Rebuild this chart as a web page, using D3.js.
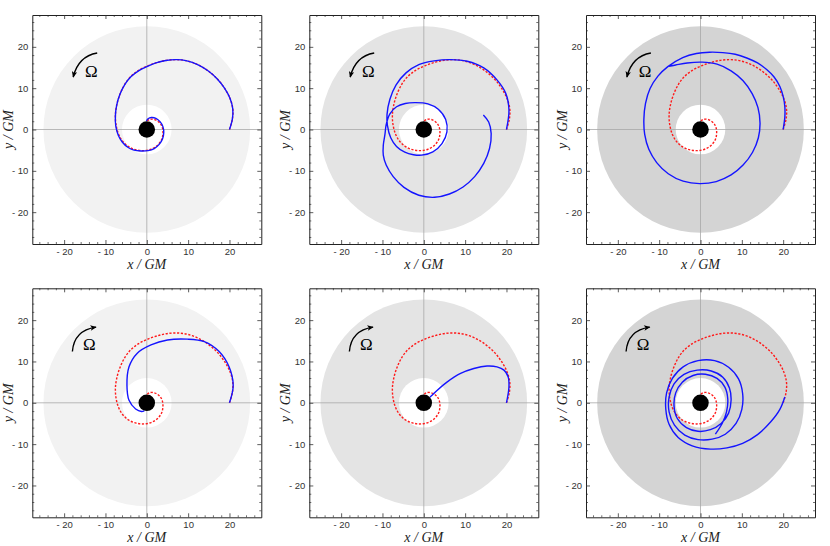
<!DOCTYPE html>
<html>
<head>
<meta charset="utf-8">
<script src="https://cdn.jsdelivr.net/npm/d3@7/dist/d3.min.js"></script>
<style>
body { margin: 0; background: #fff; }
</style>
</head>
<body>
<svg id="chart" width="830" height="546"></svg>
<script>
// values, in units of GM
var majorTicks = [-20, -10, 0, 10, 20];
var majorLabels = ['- 20', '- 10', '0', '10', '20'];
var minorTicks = [-26,-24,-22,-18,-16,-14,-12,-8,-6,-4,-2,2,4,6,8,12,14,16,18,22,24,26];

var diskShade = ['#f2f2f2', '#e4e4e4', '#d4d4d4'];
var diskRadius = 25;
var holeRadius = 6;
var horizonRadius = 2;

// rotation sense arrow (start, control, end) and Omega label
var arrowTop = [[-12, 18.5], [-16.6, 17.7], [-17.8, 12.7]];
var arrowBottom = [[-18, 12.4], [-17.6, 17.5], [-12.3, 18.3]];
var omegaTop = [-13.4, 14.1];
var omegaBottom = [-13.9, 14];

// red dashed reference orbit (same in every panel)
var redOrbit = [[20,0],[20.7,2.5],[20.8,5],[20.1,7.6],[18.8,10],[17,12.3],[14.8,14.2],[12.3,15.7],
  [9.7,16.6],[7.2,16.9],[4.6,16.7],[2.2,16.1],[0,15.3],[-2,14.3],[-3.8,12.9],[-5.3,11],[-6.5,8.5],
  [-7.3,5.8],[-7.6,3.3],[-7.4,0.9],[-6.8,-1.2],[-5.8,-2.9],[-4.5,-4.1],[-3,-4.8],[-1.4,-5.1],
  [0.2,-5],[1.6,-4.5],[2.8,-3.6],[3.6,-2.4],[3.9,-1],[3.8,0.3],[3.3,1.4],[2.5,2.1],[1.5,2.5],
  [0.6,2.4],[0.1,2.05]];

// blue orbits, one per panel
var blue1 = [[20,0],[20.7,2.5],[20.8,5],[20.1,7.6],[18.8,10],[17,12.3],[14.8,14.2],[12.3,15.7],
  [9.7,16.6],[7.2,16.9],[4.6,16.7],[2.2,16.1],[0,15.2],[-2,14.2],[-3.8,12.8],[-5.3,10.9],[-6.5,8.5],
  [-7.3,5.8],[-7.6,3.3],[-7.5,0.8],[-6.9,-1.4],[-5.9,-3.1],[-4.6,-4.3],[-3.1,-5],[-1.4,-5.2],
  [0.3,-5.1],[1.8,-4.6],[3,-3.6],[3.8,-2.3],[4.1,-0.8],[3.9,0.7],[3.2,1.9],[2.2,2.7],[1.1,2.9],
  [0.3,2.6],[-0.1,2.1]];
var blue2 = [[20,0],[20.6,4.7],[19.8,8.8],[17.7,12],[14.5,14.9],[10.5,16.5],[6.5,16.9],[2.5,16.6],
  [-1.2,15.7],[-4.3,13.7],[-6.7,10.8],[-8.2,7.3],[-8.9,3.6],[-8.8,1],[-8,-2],[-6.6,-4.1],[-4.6,-5.5],
  [-2.5,-6.1],[-0.5,-6.2],[2.2,-5.4],[4.4,-3.4],[5.6,-0.6],[5.3,2.4],[3.5,4.9],[1,6.2],[-2,6.5],
  [-4.5,6.3],[-6.6,5.5],[-8.2,3.8],[-9.1,1.2],[-9.4,-1.2],[-9.8,-3.8],[-9.8,-6.2],[-9.1,-8.6],
  [-7.4,-11.4],[-4.8,-14],[-1.2,-15.9],[2.6,-16.4],[6.2,-15.6],[9.5,-13.9],[12.3,-11.4],[14.5,-8.2],
  [15.9,-4.6],[16.3,-1],[15.7,1.8],[14.4,3.5]];
var blue3 = [[20,0],[20.4,3],[20.4,5.5],[20,8],[19.2,10.4],[17.8,12.7],[16,14.5],[13.8,16.1],
  [11.2,17.3],[8.4,18.2],[5.4,18.6],[2.2,18.7],[-1,18.4],[-4.3,17.4],[-7.9,15.2],[-10.3,12.9],
  [-12.2,9.9],[-13.3,6.3],[-13.7,2.5],[-13.5,-1.2],[-12.5,-4.8],[-10.6,-8],[-7.8,-10.7],[-4.2,-12.5],
  [-0.2,-13.1],[3.8,-12.6],[7.4,-11],[10.3,-8.6],[12.6,-5.5],[14,-2],[14.4,1.6],[13.9,5.3],
  [12.5,8.7],[10.3,11.8],[7.4,14.2],[4,15.8],[0.4,16.3],[-3.2,16.1],[-6,15.6],[-7.6,15.3]];
var blue4 = [[20,0],[20.9,4.2],[19.9,8.7],[17.5,12.4],[13.9,14.8],[9.8,15.4],[5,15.2],[1,14],
  [-2.3,12],[-4.3,8.7],[-4.8,4.2],[-4.3,0.6],[-2.7,-1.5],[-1.3,-2.1],[-0.6,-1.95]];
var blue5 = [[20,0],[20.6,3.8],[20.4,6.3],[19.4,7.9],[17.7,8.7],[15.3,8.9],[12.1,8.3],[8.9,7.1],
  [5.6,5],[3.2,3],[2,1.8],[1.5,1.35]];
var blue6 = [[20.4,1.4],[19.2,-1.6],[17,-4.6],[13.8,-7.7],[10.2,-9.8],[6.4,-10.9],[2.4,-11.2],
  [-2,-10.4],[-5.4,-8.4],[-7.6,-5.2],[-8.4,-1.5],[-8.2,2.4],[-6.8,5.9],[-4.2,8.7],[-0.6,10.2],
  [3.4,10.2],[6.8,8.6],[9.2,5.8],[10.2,2.2],[10,-1.6],[8.6,-5],[6,-7.6],[2.8,-8.8],[-0.6,-8.9],
  [-3.8,-7.8],[-6.3,-5.4],[-7.6,-2.2],[-7.6,1.4],[-6.4,4.6],[-4,6.9],[-0.8,7.9],[2.6,7.7],[5.4,6.2],
  [7,3.6],[7.4,0.6],[6.8,-2.5],[5,-5],[2.4,-6.5],[-0.6,-6.9],[-3.4,-6],[-5.6,-3.8],[-6.4,-0.8],
  [-6,2.4],[-4.4,5],[-1.8,6.6],[1.2,6.9],[4,5.9],[5.9,3.8],[6.6,0.9],[6.3,-2.2],[5.3,-4.9],[3.6,-7.6]];
var blueOrbits = [blue1, blue2, blue3, blue4, blue5, blue6];

// layout
var colLeft = [32.3, 309.3, 586];
var rowTop = [15, 288.3];
var size = 229;
var lim = 27.7;

var svg = d3.select('#chart');

var defs = svg.append('defs');
defs.append('marker')
    .attr('id', 'head')
    .attr('viewBox', '-8 -4 10 8')
    .attr('refX', 0).attr('refY', 0)
    .attr('markerWidth', 8).attr('markerHeight', 8)
    .attr('markerUnits', 'userSpaceOnUse')
    .attr('orient', 'auto')
    .append('path')
    .attr('d', 'M-7,-3.4 L1,0 L-7,3.4 L-5,0 Z')
    .attr('fill', '#000');

function drawPanel(i){
    var row = Math.floor(i / 3), col = i % 3;
    var x = d3.scaleLinear().domain([-lim, lim]).range([0, size]);
    var y = d3.scaleLinear().domain([-lim, lim]).range([size, 0]);
    var g = svg.append('g')
        .attr('transform', 'translate(' + colLeft[col] + ',' + rowTop[row] + ')');

    g.append('defs').append('clipPath').attr('id', 'clip' + i)
        .append('rect').attr('width', size).attr('height', size);
    var plot = g.append('g').attr('clip-path', 'url(#clip' + i + ')');

    // disk, inner gap, horizon
    plot.append('circle')
        .attr('cx', x(0)).attr('cy', y(0))
        .attr('r', x(diskRadius) - x(0))
        .attr('fill', diskShade[col]);
    plot.append('circle')
        .attr('cx', x(0)).attr('cy', y(0))
        .attr('r', x(holeRadius) - x(0))
        .attr('fill', '#fff');

    // axis cross lines
    plot.append('line').attr('x1', x(0)).attr('x2', x(0)).attr('y1', 0).attr('y2', size)
        .attr('stroke', '#a8a8a8').attr('stroke-width', 0.8);
    plot.append('line').attr('x1', 0).attr('x2', size).attr('y1', y(0)).attr('y2', y(0))
        .attr('stroke', '#a8a8a8').attr('stroke-width', 0.8);

    plot.append('circle')
        .attr('cx', x(0)).attr('cy', y(0))
        .attr('r', x(horizonRadius) - x(0))
        .attr('fill', '#000');

    var line = d3.line()
        .x(function(d){ return x(d[0]); })
        .y(function(d){ return y(d[1]); })
        .curve(d3.curveCatmullRom.alpha(0.5));

    plot.append('path')
        .attr('d', line(redOrbit))
        .attr('fill', 'none')
        .attr('stroke', '#ff1a1a')
        .attr('stroke-width', 1.4)
        .attr('stroke-dasharray', '2.2,1.6');

    plot.append('path')
        .attr('d', line(blueOrbits[i]))
        .attr('fill', 'none')
        .attr('stroke', '#1414ff')
        .attr('stroke-width', 1.4);

    // rotation arrow and Omega
    var arr = row === 0 ? arrowTop : arrowBottom;
    var om = row === 0 ? omegaTop : omegaBottom;
    var p = d3.path();
    p.moveTo(x(arr[0][0]), y(arr[0][1]));
    p.quadraticCurveTo(x(arr[1][0]), y(arr[1][1]), x(arr[2][0]), y(arr[2][1]));
    plot.append('path')
        .attr('d', p.toString())
        .attr('fill', 'none')
        .attr('stroke', '#000')
        .attr('stroke-width', 1.4)
        .attr('marker-end', 'url(#head)');
    plot.append('text')
        .attr('x', x(om[0])).attr('y', y(om[1]))
        .attr('text-anchor', 'middle')
        .attr('dominant-baseline', 'central')
        .attr('font-family', 'Liberation Serif, serif')
        .attr('font-size', 17)
        .text('\u03A9');

    // frame axes with inward ticks
    function fmt(d){ return majorLabels[majorTicks.indexOf(d)]; }
    var sides = [
        {axis: d3.axisBottom(x), t: 'translate(0,' + size + ')', lab: true},
        {axis: d3.axisTop(x), t: 'translate(0,0)', lab: false},
        {axis: d3.axisLeft(y), t: 'translate(0,0)', lab: true},
        {axis: d3.axisRight(y), t: 'translate(' + size + ',0)', lab: false}
    ];
    sides.forEach(function(s){
        var minor = g.append('g').attr('transform', s.t)
            .call(s.axis.tickValues(minorTicks).tickSize(-2).tickSizeOuter(0).tickFormat(''));
        minor.select('.domain').remove();
        minor.selectAll('line').attr('stroke', '#333').attr('stroke-width', 0.7);
        var major = g.append('g').attr('transform', s.t)
            .call(s.axis.tickValues(majorTicks).tickSize(-4).tickSizeOuter(0)
                .tickPadding(4)
                .tickFormat(s.lab ? fmt : ''));
        major.select('.domain').attr('stroke', '#222').attr('stroke-width', 1);
        major.selectAll('line').attr('stroke', '#333').attr('stroke-width', 0.8);
        major.selectAll('text')
            .attr('font-family', 'Liberation Sans, Arial, sans-serif')
            .attr('font-size', 9.5)
            .attr('fill', '#333');
    });

    // axis titles
    g.append('text')
        .attr('x', size / 2).attr('y', size + 25)
        .attr('text-anchor', 'middle')
        .attr('font-family', 'Liberation Serif, serif')
        .attr('font-style', 'italic')
        .attr('font-size', 14)
        .attr('fill', '#222')
        .text('x / GM');
    g.append('text')
        .attr('transform', 'translate(-19,' + (size / 2) + ') rotate(-90)')
        .attr('text-anchor', 'middle')
        .attr('font-family', 'Liberation Serif, serif')
        .attr('font-style', 'italic')
        .attr('font-size', 14)
        .attr('fill', '#222')
        .text('y / GM');
}

for (var k = 0; k < 6; k++) drawPanel(k);
</script>
</body>
</html>
